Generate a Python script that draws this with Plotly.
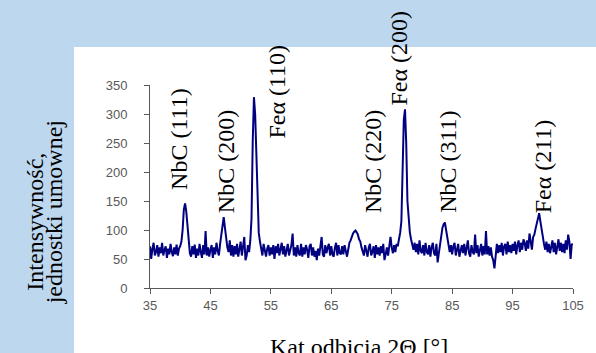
import plotly.graph_objects as go

# 2-theta positions (degrees), 0.2 deg step from 35 to 105
two_theta = [round(35 + 0.2 * i, 1) for i in range(351)]

# intensity, one row = 2 degrees (10 points)
intensity = [
    72, 50, 68, 78, 56, 62, 74, 54, 70, 60,        # 35.0
    78, 56, 66, 72, 52, 68, 58, 76, 62, 55,        # 37.0
    70, 58, 75, 56, 68, 72, 80, 100, 135, 146,     # 39.0
    132, 102, 76, 60, 54, 72, 58, 75, 52, 68,      # 41.0
    56, 76, 62, 52, 74, 58, 98, 56, 70, 54,        # 43.0
    66, 74, 52, 70, 58, 78, 64, 56, 76, 90,        # 45.0
    112, 122, 104, 84, 70, 62, 82, 56, 74, 54,     # 47.0
    72, 58, 76, 54, 70, 80, 56, 74, 88, 48,        # 49.0
    56, 74, 62, 82, 120, 252, 329, 300, 220, 130,  # 51.0
    95, 80, 66, 56, 76, 62, 54, 68, 74, 56,        # 53.0
    70, 58, 74, 50, 72, 60, 76, 56, 70, 78,        # 55.0
    58, 72, 54, 70, 76, 56, 66, 74, 94, 56,        # 57.0
    70, 54, 74, 60, 56, 76, 54, 70, 58, 74,        # 59.0
    66, 52, 72, 76, 56, 70, 54, 64, 48, 68,        # 61.0
    56, 72, 88, 58, 54, 74, 60, 70, 76, 56,        # 63.0
    72, 58, 54, 70, 78, 56, 74, 60, 58, 72,        # 65.0
    58, 74, 62, 54, 66, 78, 82, 90, 94, 97,        # 67.0
    99, 96, 92, 84, 80, 70, 62, 56, 74, 60,        # 69.0
    54, 70, 76, 56, 62, 72, 52, 74, 58, 70,        # 71.0
    56, 72, 60, 76, 48, 58, 70, 56, 74, 88,        # 73.0
    70, 60, 74, 62, 76, 72, 84, 95, 115, 210,      # 75.0
    290, 308, 250, 150, 112, 96, 84, 76, 66, 78,   # 77.0
    62, 76, 58, 82, 64, 60, 74, 56, 78, 62,        # 79.0
    58, 74, 54, 70, 78, 60, 56, 76, 44, 60,        # 81.0
    78, 92, 104, 110, 113, 100, 86, 72, 62, 74,    # 83.0
    58, 72, 78, 56, 68, 76, 54, 62, 74, 60,        # 85.0
    76, 56, 70, 82, 60, 54, 74, 62, 58, 92,        # 87.0
    60, 74, 54, 70, 76, 56, 72, 58, 98, 58,        # 89.0
    72, 56, 70, 54, 48, 34, 58, 76, 60, 74,        # 91.0
    62, 78, 56, 72, 76, 58, 80, 62, 74, 60,        # 93.0
    76, 64, 80, 58, 74, 82, 62, 78, 66, 84,        # 95.0
    78, 64, 82, 68, 94, 80, 66, 88, 92, 102,       # 97.0
    112, 120, 129, 115, 100, 88, 76, 66, 80, 62,   # 99.0
    76, 60, 74, 82, 62, 78, 58, 74, 84, 64,        # 101.0
    78, 62, 76, 60, 82, 66, 92, 80, 50, 76,        # 103.0
    74,                                            # 105.0
]

# peak labels
peak_labels = ["NbC (111)", "NbC (200)", "Feα (110)", "NbC (220)",
               "Feα (200)", "NbC (311)", "Feα (211)"]
label_x = [39.9, 47.7, 56.0, 72.0, 76.2, 84.3, 100.1]
label_y = [165, 126, 254, 126, 312, 126, 126]

x_ticks = [35, 45, 55, 65, 75, 85, 95, 105]
y_ticks = [0, 50, 100, 150, 200, 250, 300, 350]

x_title = "Kat odbicia 2Θ [°]"
y_title_lines = ["Intensywność,", "jednostki umownej"]

SERIF = "Liberation Serif, Times New Roman, serif"
SANS = "Liberation Sans, Arial, sans-serif"

fig = go.Figure()
fig.add_trace(go.Scatter(
    x=two_theta, y=intensity, mode="lines",
    line=dict(color="#000080", width=2),
    showlegend=False, hoverinfo="skip",
))

W, H = 596, 353
L, R, T, B = 150, 17, 85, 65
pw, ph = W - L - R, H - T - B

def px_x(p):
    return (p - L) / pw

def px_y(p):
    return (H - B - p) / ph

fig.add_shape(type="rect", xref="paper", yref="paper",
              x0=px_x(73), x1=px_x(620), y0=px_y(400), y1=px_y(47),
              fillcolor="white", line=dict(width=0), layer="below")

for t, xv, yv in zip(peak_labels, label_x, label_y):
    fig.add_annotation(x=xv, y=yv, xref="x", yref="y", text=t,
                       textangle=-90, showarrow=False,
                       xanchor="center", yanchor="bottom",
                       font=dict(family=SERIF, size=24, color="black"))

fig.add_annotation(x=px_x(33), y=px_y(222), xref="paper", yref="paper",
                   text=y_title_lines[0], textangle=-90, showarrow=False,
                   xanchor="center", yanchor="middle",
                   font=dict(family=SERIF, size=24, color="black"))
fig.add_annotation(x=px_x(53), y=px_y(212), xref="paper", yref="paper",
                   text=y_title_lines[1], textangle=-90, showarrow=False,
                   xanchor="center", yanchor="middle",
                   font=dict(family=SERIF, size=24, color="black"))
fig.add_annotation(x=px_x(362), y=px_y(347), xref="paper", yref="paper",
                   text=x_title, showarrow=False,
                   xanchor="center", yanchor="middle",
                   font=dict(family=SERIF, size=24, color="black"))

axis_common = dict(showline=True, linecolor="#595959", linewidth=1,
                   ticks="outside", ticklen=5, tickcolor="#595959",
                   showgrid=False, zeroline=False,
                   tickfont=dict(family=SANS, size=13, color="#595959"))

fig.update_xaxes(range=[35, 105], tickvals=x_ticks,
                 ticktext=[str(v) for v in x_ticks], **axis_common)
fig.update_yaxes(range=[0, 350], tickvals=y_ticks,
                 ticktext=[str(v) for v in y_ticks],
                 ticklabelstandoff=14, **axis_common)

fig.update_layout(
    width=W, height=H, autosize=False,
    margin=dict(l=L, r=R, t=T, b=B, pad=0),
    paper_bgcolor="#bdd7ee", plot_bgcolor="white",
)

fig.write_html(
    "out.html",
    config={"displayModeBar": False, "responsive": False},
    post_script="document.body.style.margin='0';"
                "document.body.style.overflow='hidden';"
                "document.body.style.background='#bdd7ee';",
)
